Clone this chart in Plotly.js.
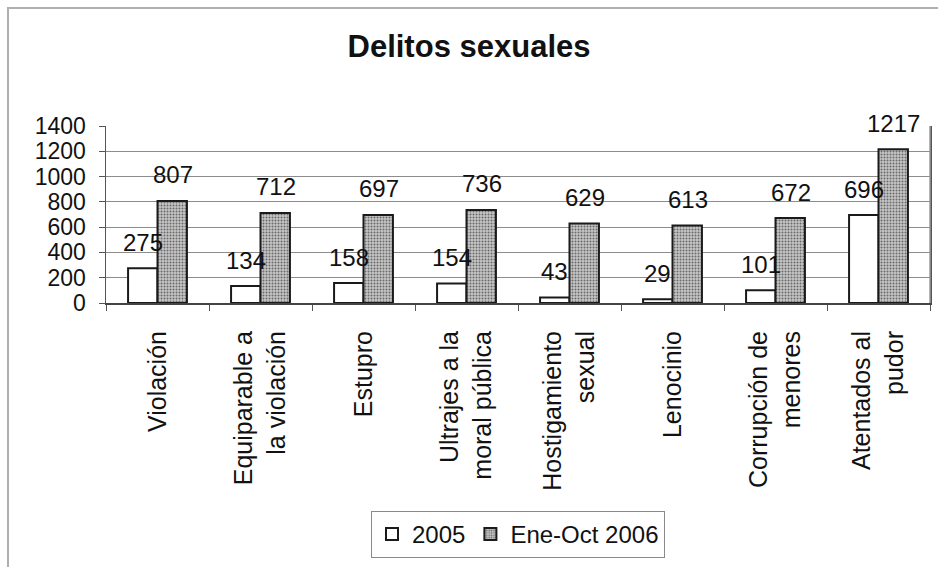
<!DOCTYPE html>
<html>
<head>
<meta charset="utf-8">
<script src="https://cdn.plot.ly/plotly-3.0.1.min.js"></script>
<style>
  html, body { margin: 0; padding: 0; background: #fff; }
  #frame {
    position: absolute; left: 7px; top: 7px; width: 931px; height: 560px;
    border-left: 2px solid #b0b0b0; border-top: 2px solid #b0b0b0;
  }
  #chart { position: absolute; left: 0; top: 0; width: 938px; height: 567px; }
</style>
</head>
<body>
<div id="frame"></div>
<div id="chart"></div>
<script>
const categories = [
    "Violación",
    "Equiparable a<br>la violación",
    "Estupro",
    "Ultrajes a la<br>moral pública",
    "Hostigamiento<br>sexual",
    "Lenocinio",
    "Corrupción de<br>menores",
    "Atentados al<br>pudor"
];
const values2005 = [275, 134, 158, 154, 43, 29, 101, 696];
const values2006 = [807, 712, 697, 736, 629, 613, 672, 1217];
const seriesNames = ["2005", "Ene-Oct 2006"];
const yTicks = [0, 200, 400, 600, 800, 1000, 1200, 1400];

const font = "Liberation Sans, Arial, sans-serif";

function drawChart() {
    const outline = { color: "#1a1a1a", width: 2 };

    const bars2005 = {
        type: "bar",
        name: seriesNames[0],
        x: categories,
        y: values2005,
        marker: { color: "#ffffff", line: outline }
    };
    const bars2006 = {
        type: "bar",
        name: seriesNames[1],
        x: categories,
        y: values2006,
        marker: {
            color: "#b4b4b4",
            line: outline,
            pattern: { shape: ".", size: 3, solidity: 0.35, fgcolor: "#6a6a6a", bgcolor: "#c6c6c6" }
        }
    };

    // data labels sit a bit above each bar, like the Excel original
    const labels = [];
    categories.forEach((c, i) => {
        labels.push({ x: c, y: values2005[i], text: String(values2005[i]), xshift: -15 });
        labels.push({ x: c, y: values2006[i], text: String(values2006[i]), xshift: 15 });
    });
    const annotations = labels.map(a => ({
        ...a,
        xref: "x", yref: "y",
        showarrow: false,
        yshift: 26,
        yanchor: "middle",
        font: { family: font, size: 24, color: "#111" }
    }));

    const layout = {
        width: 938,
        height: 567,
        margin: { l: 106, r: 8, t: 126, b: 261 },
        paper_bgcolor: "rgba(0,0,0,0)",
        plot_bgcolor: "#fff",
        font: { family: font, size: 24, color: "#111" },
        title: {
            text: "<b>Delitos sexuales</b>",
            font: { family: font, size: 31, color: "#111" },
            x: 0.5, xanchor: "center",
            y: 1 - 46 / 567, yanchor: "middle"
        },
        barmode: "group",
        bargap: 1.5 / 3.5,
        bargroupgap: 0,
        xaxis: {
            type: "category",
            tickangle: -90,
            tickson: "boundaries",
            ticks: "outside",
            ticklen: 6,
            tickcolor: "#555",
            ticklabelstandoff: 16,
            tickfont: { family: font, size: 25, color: "#111" },
            showline: true,
            linecolor: "#444",
            linewidth: 2,
            mirror: false,
            showgrid: false
        },
        yaxis: {
            range: [0, 1400],
            tickvals: yTicks,
            ticktext: yTicks.map(String),
            ticks: "outside",
            ticklen: 6,
            tickcolor: "#555",
            ticklabelstandoff: 8,
            tickfont: { family: font, size: 23, color: "#111" },
            showline: true,
            linecolor: "#555",
            linewidth: 1.5,
            mirror: true,
            showgrid: true,
            gridcolor: "#8c8c8c",
            gridwidth: 1,
            zeroline: false
        },
        shapes: [{
            type: "line", xref: "paper", yref: "paper",
            x0: 1, x1: 1, y0: 0, y1: 1,
            line: { color: "#9a9a9a", width: 1.5 }
        }],
        annotations,
        showlegend: true,
        legend: {
            orientation: "h",
            x: 0.5, xanchor: "center",
            y: -1.175, yanchor: "top",
            bordercolor: "#8a8a8a",
            borderwidth: 1,
            bgcolor: "#fff",
            font: { family: font, size: 24, color: "#111" },
            itemwidth: 30,
            traceorder: "normal"
        }
    };

    Plotly.newPlot("chart", [bars2005, bars2006], layout, { displayModeBar: false, staticPlot: true });
}

document.addEventListener("DOMContentLoaded", drawChart);
</script>
</body>
</html>
